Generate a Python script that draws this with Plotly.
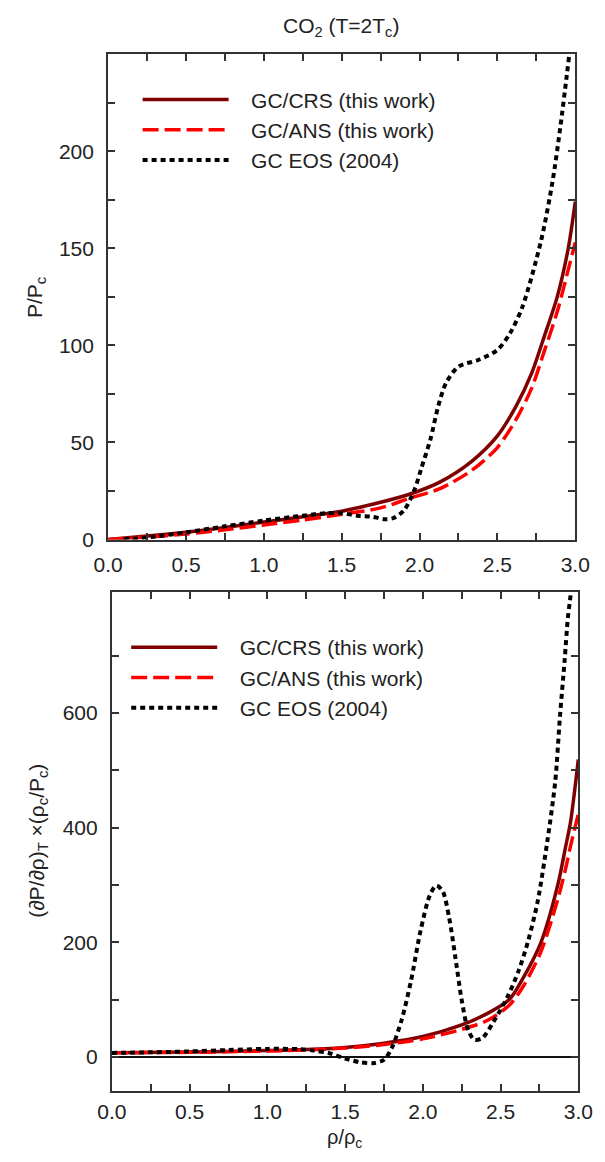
import plotly.graph_objects as go

# ---------------- data ----------------
# Top panel: P/Pc vs rho/rho_c
rho_p = [0, 0.25, 0.5, 0.75, 1.0, 1.25, 1.5, 1.75, 1.93, 2.13, 2.335, 2.5, 2.62, 2.72, 2.80, 2.884, 2.955, 3.0]
p_crs = [0, 1.8, 3.8, 6.2, 9.0, 11.7, 14.6, 19.2, 23.2, 29.6, 40.3, 53.4, 68.7, 85.7, 104.4, 125.0, 150.0, 174.0]
p_ans = [0, 1.3, 2.8, 5.0, 7.5, 10.0, 13.0, 16.3, 21.1, 26.2, 35.6, 47.4, 61.9, 78.0, 96.8, 117.3, 139.0, 153.0]

rho_eos = [0.1, 0.3, 0.5, 0.75, 1.0, 1.25, 1.4, 1.5, 1.6, 1.7, 1.77, 1.83, 1.9, 1.97, 2.01, 2.07,
           2.12, 2.17, 2.25, 2.38, 2.5, 2.58, 2.66, 2.78, 2.854, 2.905, 2.945, 2.98]
p_eos = [0, 1.5, 3.7, 6.8, 9.8, 12.3, 13.6, 13.6, 12.3, 11.7, 10.5, 11.0, 15.0, 26.2, 36.4, 51.7,
         68.7, 80.6, 89.1, 92.6, 97.7, 106.1, 119.7, 153.8, 184.4, 213.0, 238.8, 262.0]

# Bottom panel: (dP/drho)_T * (rho_c/P_c) vs rho/rho_c
rho_d = [0, 0.5, 1.0, 1.25, 1.5, 1.75, 2.0, 2.25, 2.41, 2.556, 2.65, 2.76, 2.868, 2.917, 2.95, 3.0]
d_crs = [7.3, 8.5, 11.0, 13.0, 16.5, 24.0, 35.6, 55.8, 75.0, 100.0, 140.0, 200.0, 300.0, 365.0, 410.0, 519.0]
d_ans = [7.3, 8.0, 10.2, 12.2, 15.3, 21.5, 31.5, 48.0, 63.0, 90.0, 125.0, 184.0, 275.0, 327.0, 368.0, 424.0]

rho_e = [0, 0.25, 0.5, 0.75, 1.0, 1.2, 1.3, 1.394, 1.5, 1.6, 1.68, 1.75, 1.80, 1.863, 1.924, 1.985,
         2.046, 2.087, 2.128, 2.169, 2.209, 2.25, 2.291, 2.331, 2.383, 2.454, 2.545, 2.617, 2.678,
         2.739, 2.80, 2.851, 2.882, 2.912, 2.933, 2.947, 2.97]
d_eos = [7, 8, 9.5, 12, 14, 13.5, 11, 6.9, -3, -9.5, -11, -5, 15.5, 64, 133, 220,
         283, 299, 289, 243, 174, 99, 47, 30, 33, 61, 105, 151, 203,
         272, 375, 479, 594, 692, 767, 798, 860]

names = ["GC/CRS (this work)", "GC/ANS (this work)", "GC EOS (2004)"]

x_major = [0, 0.5, 1.0, 1.5, 2.0, 2.5, 3.0]
x_labels = ["0.0", "0.5", "1.0", "1.5", "2.0", "2.5", "3.0"]
x_minor = [0.25, 0.75, 1.25, 1.75, 2.25, 2.75]
y1_major = [0, 50, 100, 150, 200]
y1_minor = [25, 75, 125, 175, 225]
y2_major = [0, 200, 400, 600]
y2_minor = [100, 300, 500, 700]

# ---------------- figure ----------------
W, H = 605, 1162
FONT = "Liberation Sans, Arial, sans-serif"
TXT = "#222222"
C_CRS = "#7f0000"
C_ANS = "#ff0000"
C_EOS = "#000000"
PAD = "\u00a0\u00a0\u00a0"

def px_x(p):
    return p / W

def px_y(p):
    return 1 - p / H

fig = go.Figure()

styles = [
    dict(color=C_CRS, width=3.5, dash="solid"),
    dict(color=C_ANS, width=3.5, dash="16px,6px"),
    dict(color=C_EOS, width=4, dash="5px,4px"),
]

top_series = [(rho_p, p_crs), (rho_p, p_ans), (rho_eos, p_eos)]
bot_series = [(rho_d, d_crs), (rho_d, d_ans), (rho_e, d_eos)]

for (xs, ys), nm, st in zip(top_series, names, styles):
    fig.add_trace(go.Scatter(x=xs, y=ys, mode="lines", name=PAD + nm,
                             line=dict(shape="spline", smoothing=0.8, **st),
                             xaxis="x", yaxis="y", legend="legend"))
for (xs, ys), nm, st in zip(bot_series, names, styles):
    fig.add_trace(go.Scatter(x=xs, y=ys, mode="lines", name=PAD + nm,
                             line=dict(shape="spline", smoothing=0.8, **st),
                             xaxis="x2", yaxis="y2", legend="legend2"))

axis_common = dict(
    showline=True, mirror="allticks", linecolor="#333333", linewidth=2,
    ticks="inside", ticklen=7, tickwidth=1.5, tickcolor="#333333",
    showgrid=False, tickfont=dict(family=FONT, size=21, color=TXT),
    tickmode="array",
)

def minor(vals):
    return dict(tickmode="array", tickvals=vals, ticks="inside", ticklen=7,
                tickwidth=1.5, tickcolor="#333333", showgrid=False)

fig.update_layout(
    width=W, height=H,
    margin=dict(l=0, r=0, t=0, b=0),
    paper_bgcolor="white", plot_bgcolor="white",
    font=dict(family=FONT, size=21, color=TXT),
    xaxis=dict(domain=[px_x(98), px_x(589.5)], range=[0, 3], anchor="y",
               tickvals=x_major, ticktext=x_labels, minor=minor(x_minor), zeroline=False,
               ticklabelstandoff=5, **axis_common),
    yaxis=dict(domain=[px_y(544.7), px_y(54.7)], range=[0, 250], anchor="x",
               tickvals=y1_major, minor=minor(y1_minor), zeroline=False,
               ticklabelstandoff=8, **axis_common),
    xaxis2=dict(domain=[px_x(102), px_x(592.7)], range=[0, 3], anchor="y2",
                tickvals=x_major, ticktext=x_labels, minor=minor(x_minor), zeroline=False,
                ticklabelstandoff=1, **axis_common),
    yaxis2=dict(domain=[px_y(1101.7), px_y(597.3)], range=[-60, 812], anchor="x2",
                tickvals=y2_major, minor=minor(y2_minor), zeroline=True,
                zerolinecolor="#111111", zerolinewidth=1.6,
                ticklabelstandoff=8, **axis_common),
    legend=dict(x=px_x(129), y=px_y(80), xanchor="left", yanchor="top",
                bgcolor="rgba(0,0,0,0)", borderwidth=0, itemwidth=86,
                font=dict(family=FONT, size=21, color=TXT),
                tracegroupgap=0),
    legend2=dict(x=px_x(117), y=px_y(633), xanchor="left", yanchor="top",
                 bgcolor="rgba(0,0,0,0)", borderwidth=0, itemwidth=86,
                 font=dict(family=FONT, size=21, color=TXT),
                 tracegroupgap=0),
    showlegend=True,
    annotations=[
        dict(text="CO<sub>2</sub> (T=2T<sub>c</sub>)", x=px_x(343), y=px_y(27),
             xref="paper", yref="paper", showarrow=False, xanchor="center", yanchor="middle",
             font=dict(family=FONT, size=21, color=TXT)),
        dict(text="P/P<sub>c</sub>", x=px_x(22), y=px_y(300), textangle=-90,
             xref="paper", yref="paper", showarrow=False, xanchor="center", yanchor="middle",
             font=dict(family=FONT, size=21, color=TXT)),
        dict(text="(∂P/∂ρ)<sub>T</sub> ×(ρ<sub>c</sub>/P<sub>c</sub>)", x=px_x(24), y=px_y(849),
             textangle=-90, xref="paper", yref="paper", showarrow=False,
             xanchor="center", yanchor="middle",
             font=dict(family=FONT, size=21, color=TXT)),
        dict(text="ρ/ρ<sub>c</sub>", x=px_x(347), y=0, yanchor="bottom", yshift=-2,
             xref="paper", yref="paper", showarrow=False, xanchor="center",
             font=dict(family=FONT, size=20, color=TXT)),
    ],
)

fig.write_html("out.html")
